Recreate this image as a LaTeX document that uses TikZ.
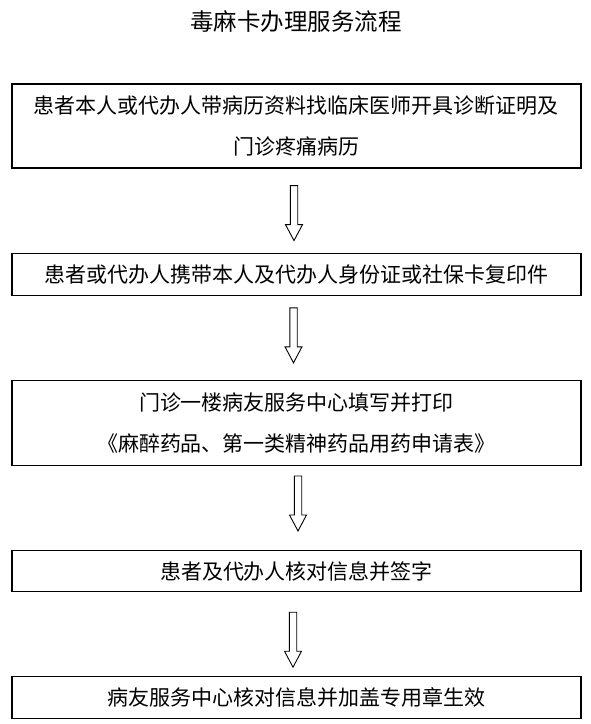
\documentclass[tikz,border=0pt]{standalone}
\usepackage{fontspec}
\setmainfont{Noto Sans CJK SC}
\usetikzlibrary{positioning,calc}
\newcommand{\hollowdown}[3]{% hollow arrow under node #1, shifted #2, gap #3
  \draw[hollow] ($(#1.south)+(#2,-#3)$) ++(-3.7,0) -- ++(0,-39) -- ++(-4.8,0)
    -- ++(8.5,-16) -- ++(8.5,16) -- ++(-4.8,0) -- ++(0,39) -- cycle;}

\begin{document}
\begin{tikzpicture}[x=1pt, y=1pt,
  stepbox/.style={draw, line width=1.2pt, minimum width=569pt, inner sep=0pt, align=center, font=\fontsize{21}{41}\selectfont},
  hollow/.style={draw, line width=0.9pt, fill=white},
  node distance=84pt
]
  \useasboundingbox (0,0) rectangle (591,-724);
  \node[font=\fontsize{23.5}{28}\selectfont] (title) at (296,-22) {毒麻卡办理服务流程};

  \node[stepbox, minimum height=84pt] (s1) at (296.5,-126) {患者本人或代办人带病历资料找临床医师开具诊断证明及\\门诊疼痛病历};
  \node[stepbox, minimum height=42pt, below=of s1] (s2) {患者或代办人携带本人及代办人身份证或社保卡复印件};
  \node[stepbox, minimum height=85pt, below=of s2] (s3) {门诊一楼病友服务中心填写并打印\\《麻醉药品、第一类精神药品用药申请表》};
  \node[stepbox, minimum height=41pt, below=of s3] (s4) {患者及代办人核对信息并签字};
  \node[stepbox, minimum height=42pt, below=of s4] (s5) {病友服务中心核对信息并加盖专用章生效};

  % hollow arrows between the steps
  \hollowdown{s1}{-2.5}{17}
  \hollowdown{s2}{-3}{12}
  \hollowdown{s3}{1.5}{10}
  \hollowdown{s4}{-3.5}{20}
\end{tikzpicture}
\end{document}
